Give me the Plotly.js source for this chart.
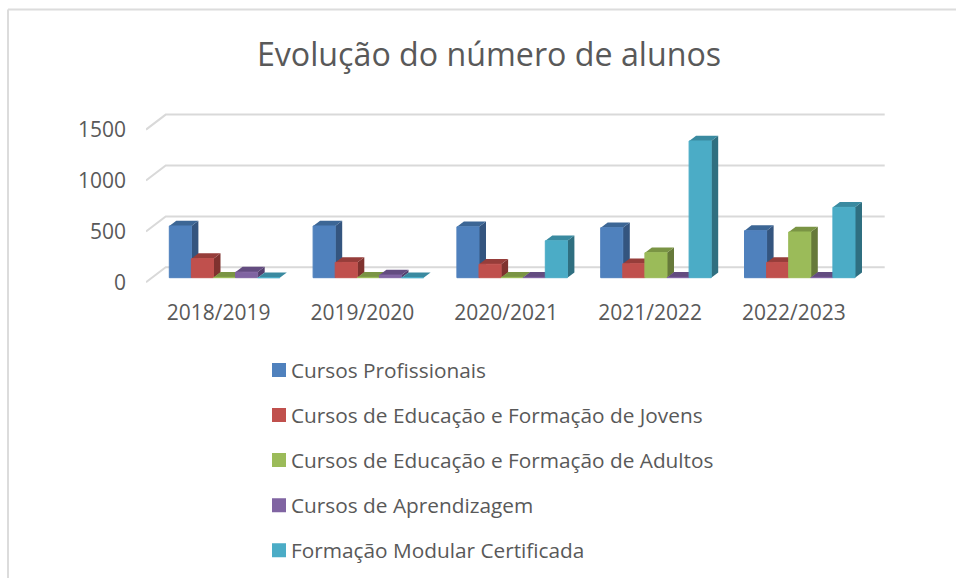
<!DOCTYPE html>
<html lang="pt">
<head>
<meta charset="utf-8">
<title>Evolução do número de alunos</title>
<script src="https://cdn.plot.ly/plotly-3.0.1.min.js"></script>
<style>html,body{margin:0;padding:0;background:#fff}#chart{width:956px;height:578px}</style>
</head>
<body>
<div id="chart"></div>
<script>
// Data
const categories = ["2018/2019", "2019/2020", "2020/2021", "2021/2022", "2022/2023"];
const seriesNames = [
  "Cursos Profissionais",
  "Cursos de Educação e Formação de Jovens",
  "Cursos de Educação e Formação de Adultos",
  "Cursos de Aprendizagem",
  "Formação Modular Certificada"
];
const profissionais = [508, 508, 500, 491, 462];
const jovens        = [187, 150, 132, 137, 150];
const adultos       = [3, 3, 3, 245, 449];
const aprendizagem  = [55, 26, 3, 3, 3];
const modular       = [0, 0, 363, 1343, 691];
const yTicks = [0, 500, 1000, 1500];

// Styling
const frontColors = ["#4F81BD", "#C0504D", "#9BBB59", "#8064A2", "#4BACC6"];
const sideColors  = ["#34557F", "#7F322F", "#66793A", "#533F6D", "#2F6F80"];
const topColors   = ["#3C6695", "#963D3A", "#7A9444", "#634C80", "#3A8AA0"];
const allSeries = [profissionais, jovens, adultos, aprendizagem, modular];

// Page geometry in pixels
const W = 956, H = 578;
const plotL = 146, plotR = 892, plotT = 105, plotB = 286;
const zeroPx = 282.3, pxPerUnit = 0.1018, catPx = 143.8;
const xMin = -0.5, xMax = xMin + (plotR - plotL) / catPx;
const yMin = (zeroPx - plotB) / pxPerUnit, yMax = (zeroPx - plotT) / pxPerUnit;
// depth of the wall and of a bar, as axis units
const wallDx = 19.7 / catPx, wallDy = 15 / pxPerUnit;
const barDx = 7 / catPx, barDy = 5.3 / pxPerUnit;
const floorBase = 4.6 / pxPerUnit;      // bars stand a little behind the front edge of the floor
const barW = 22.1 / catPx;
const barStart = (169.3 - (plotL + catPx / 2)) / catPx;

const traces = allSeries.map((vals, k) => ({
  type: "bar",
  name: seriesNames[k],
  legendgroup: "g" + k,
  x: categories.map((c, i) => i),
  y: vals,
  base: vals.map(() => floorBase),
  width: barW,
  offset: barStart + k * barW,
  marker: {color: frontColors[k], line: {color: frontColors[k], width: 1}},
  hovertemplate: "%{customdata}: %{text}<extra>" + seriesNames[k] + "</extra>",
  customdata: categories,
  text: vals.map(String),
  textposition: "none"
}));

const px = v => (v - plotL) / (plotR - plotL);
const py = v => (plotB - v) / (plotB - plotT);
const shapes = [];
// chart frame
shapes.push({type: "line", xref: "paper", yref: "paper", x0: px(8), x1: px(956), y0: py(9.5), y1: py(9.5), layer: "below", line: {color: "#DCDCDC", width: 2}});
shapes.push({type: "line", xref: "paper", yref: "paper", x0: px(8), x1: px(8), y0: py(9.5), y1: py(578), layer: "below", line: {color: "#DCDCDC", width: 2}});
// gridlines: side wall diagonal then back wall
yTicks.forEach(t => {
  const xa = xMin, xb = xMin + wallDx, xc = 4.5 + wallDx, yb = t + wallDy;
  shapes.push({type: "path", xref: "x", yref: "y", layer: "between",
    path: `M${xa},${t}L${xb},${yb}L${xc},${yb}`,
    line: {color: "#D9D9D9", width: 2}, fillcolor: "rgba(0,0,0,0)"});
});
// side and top faces of each bar, left to right
categories.forEach((c, i) => {
  allSeries.forEach((vals, k) => {
    const x0 = i + barStart + k * barW, x1 = x0 + barW;
    const y0 = floorBase, y1 = floorBase + vals[i];
    shapes.push({type: "path", xref: "x", yref: "y", layer: "between",
      path: `M${x1},${y0}L${x1 + barDx},${y0 + barDy}L${x1 + barDx},${y1 + barDy}L${x1},${y1}Z`,
      fillcolor: sideColors[k], line: {width: 0}});
    shapes.push({type: "path", xref: "x", yref: "y", layer: "between",
      path: `M${x0},${y1}L${x0 + barDx},${y1 + barDy}L${x1 + barDx},${y1 + barDy}L${x1},${y1}Z`,
      fillcolor: topColors[k], line: {width: 0}});
  });
});

const font = "'Open Sans', sans-serif";
const layout = {
  width: W, height: H,
  paper_bgcolor: "#fff", plot_bgcolor: "rgba(0,0,0,0)",
  margin: {l: plotL, r: W - plotR, t: plotT, b: H - plotB, pad: 0, autoexpand: false},
  font: {family: font, color: "#595959", size: 21},
  title: {text: "Evolução do número de alunos", font: {family: font, size: 32.2, color: "#595959"},
          x: 489 / W, xanchor: "center", y: 1 - 55 / H, yanchor: "middle"},
  barmode: "overlay",
  hovermode: "closest",
  xaxis: {type: "linear", range: [xMin, xMax], tickmode: "array",
          tickvals: categories.map((c, i) => i + 0.005), ticktext: categories,
          showgrid: false, zeroline: false, showline: false, ticks: "", ticklabelstandoff: 12,
          tickfont: {family: font, size: 21, color: "#595959"}, fixedrange: true},
  yaxis: {range: [yMin, yMax], tickmode: "array", tickvals: yTicks, ticktext: yTicks.map(String),
          showgrid: false, zeroline: false, showline: false, ticks: "", ticklabelstandoff: 19,
          tickfont: {family: font, size: 21, color: "#595959"}, fixedrange: true},
  shapes: shapes,
  showlegend: true,
  legend: {orientation: "v", traceorder: "grouped", tracegroupgap: 15,
           xref: "container", yref: "container",
           x: 251 / W, xanchor: "left",
           y: 1 - 350 / H, yanchor: "top",
           font: {family: font, size: 20.8, color: "#595959"}, bgcolor: "rgba(0,0,0,0)", borderwidth: 0}
};
Plotly.newPlot("chart", traces, layout, {displayModeBar: false, responsive: false}).then(gd => {
  // Legend swatches sit closer to their labels in the reference
  gd.querySelectorAll(".legend .legendsymbols").forEach(g => g.setAttribute("transform", "translate(8,0)"));
  gd.querySelectorAll(".legend .legendsymbols path").forEach(p => { p.style.strokeWidth = "2px"; });
});
</script>
</body>
</html>
